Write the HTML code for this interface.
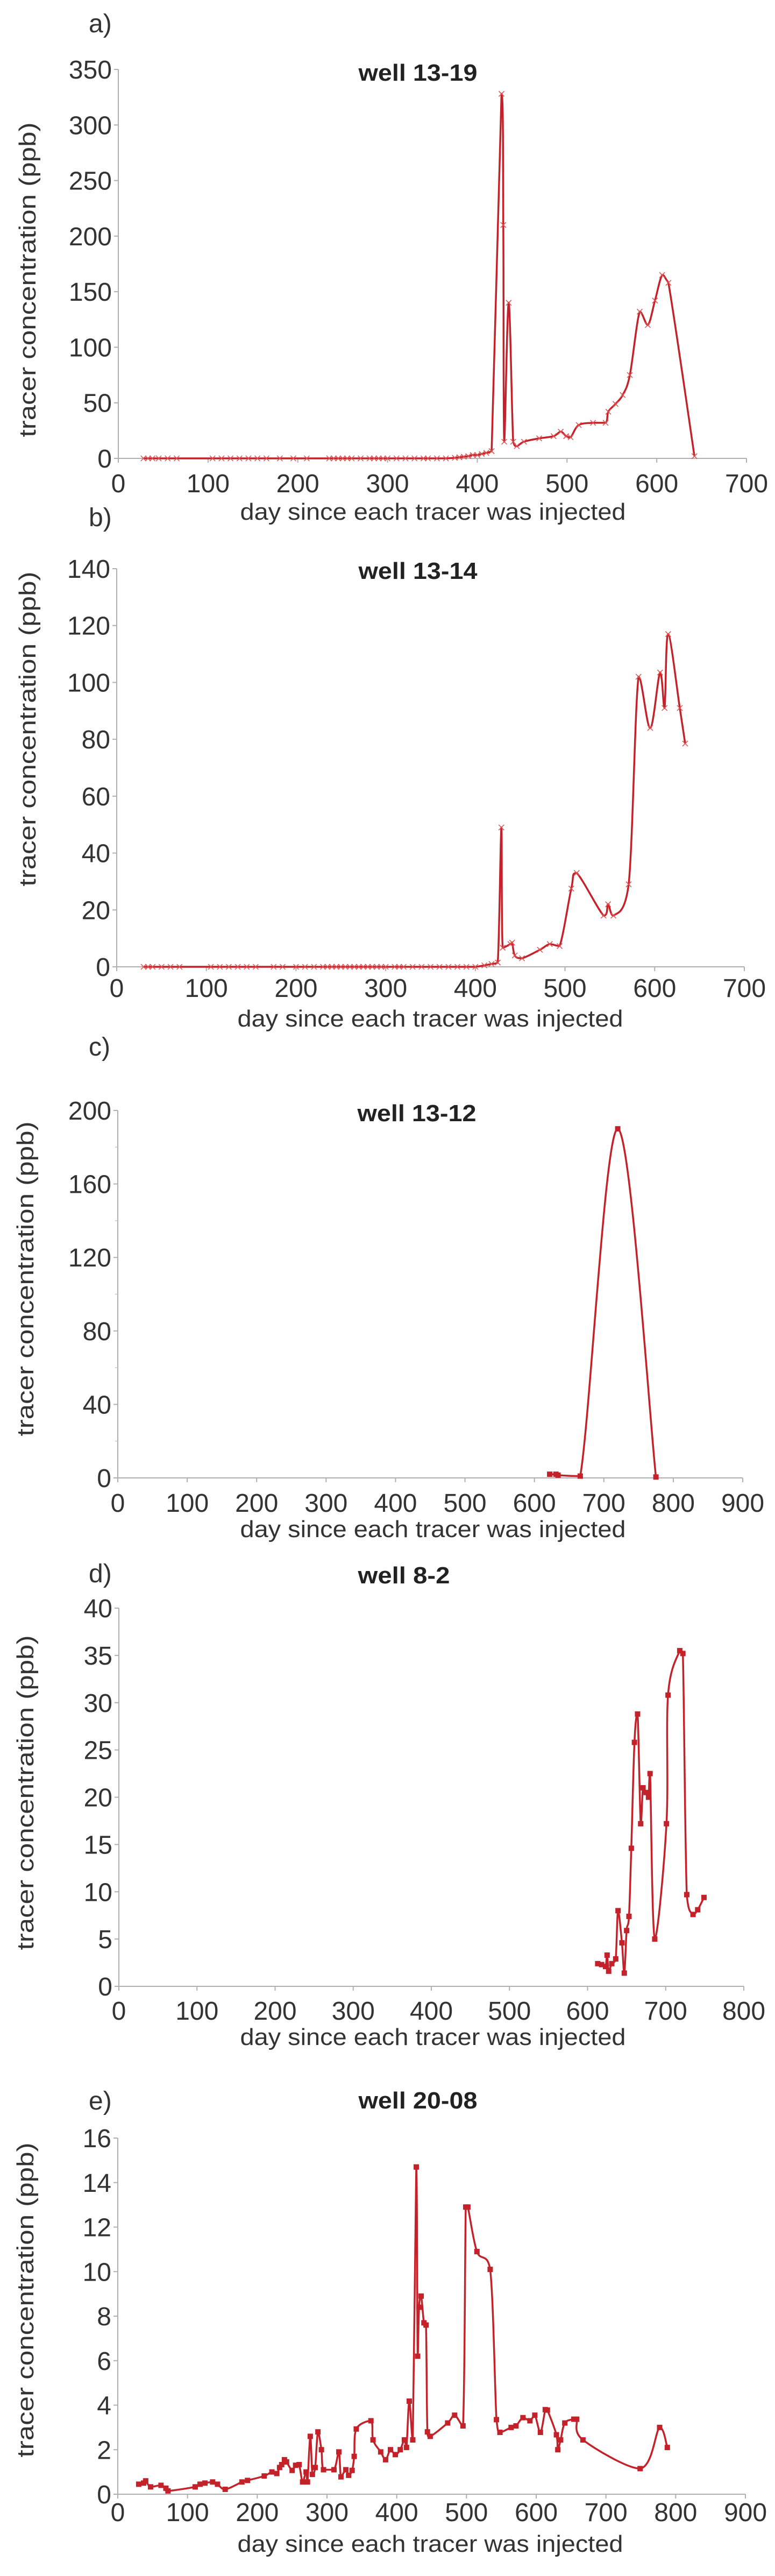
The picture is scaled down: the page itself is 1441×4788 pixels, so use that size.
<!DOCTYPE html>
<html><head><meta charset="utf-8"><title>Tracer concentrations</title>
<style>html,body{margin:0;padding:0;background:#fff;}svg{display:block;}</style></head>
<body>
<svg id="fig" width="1441" height="4788" viewBox="0 0 1441 4788" xmlns="http://www.w3.org/2000/svg" font-family="'Liberation Sans', Arial, sans-serif"></svg>
<script>
// ---- data ----
const aDays = [28,33,38,45,55,65,105,115,125,135,145,155,165,180,195,210,235,240,245,250,255,260,270,280,285,290,295,300,310,320,330,340,345,355,365,375,380,385,390,395,400,405,410,416,427,429,430,435,440,444,452,469,485,493,499,504,513,529,543,546,554,562,570,581,590,598,606,613,642];
const aVals = [0,0,0,0,0,0,0,0,0,0,0,0,0,0,0,0,0,0,0,0,0,0,0,0,0,0,0,0,0,0,0,0,0,0,0,0.5,1,1.5,2,3,3,4,5,6.5,328,210,15,140,15,11,15,18,20,24,20,19,30,32,32,42,49,57,75,132,120,142,165,158,2];
const aYTicks = [0,50,100,150,200,250,300,350];
const aXTicks = [0,100,200,300,400,500,600,700];

const bDays = [30,35,40,50,60,70,105,115,125,135,145,155,175,185,200,210,220,230,235,240,245,250,255,260,265,270,275,280,285,290,295,300,310,315,320,330,340,350,360,370,380,390,400,410,418,425,429,430.5,439,441,444,452,472,483,494,507,513,543,548,554,571,582,595,606,611,615,628,634];
const bVals = [0,0,0,0,0,0,0,0,0,0,0,0,0,0,0,0,0,0,0,0,0,0,0,0,0,0,0,0,0,0,0,0,0,0,0,0,0,0,0,0,0,0,0,0.5,1,1.5,49,6.7,8,8.5,4,3,6,8,7.3,27.5,33,18,22,18,29,102,84,103.5,91,117,91,78.5];
const bYTicks = [0,20,40,60,80,100,120,140];
const bXTicks = [0,100,200,300,400,500,600,700];

const cDays = [622,631,634,666,720,775];
const cVals = [2,2,1.5,1,190,0.5];
const cYTicks = [0,40,80,120,160,200];
const cXTicks = [0,100,200,300,400,500,600,700,800,900];

const dDays = [613,618,623,625,627,631,636,639,644,647,650,653,656,660,664,668,671,675,678,680,686,701,703,718,722,727,735,741,749];
const dVals = [2.4,2.3,2.1,3.3,1.6,2.4,2.9,8,4.6,1.4,5.9,7.4,14.6,25.8,28.8,17.2,21,20.5,20,22.5,5,17.2,30.8,35.5,35.2,9.7,7.6,8.1,9.4];
const dYTicks = [0,5,10,15,20,25,30,35,40];
const dXTicks = [0,100,200,300,400,500,600,700,800];

const eDays = [30,37,40,47,62,69,72,111,118,125,136,143,154,178,186,210,221,228,232,235,239,242,250,255,260,265,270,272,276,279,283,287,292,295,310,317,320,327,331,336,339,342,363,366,377,384,391,398,405,411,414,418,423,428,430,432,435,439,442,444,448,473,483,495,499,502,515,534,543,548,564,571,581,591,598,606,613,616,629,631,635,641,654,658,667,749,777,788];
const eVals = [0.45,0.5,0.6,0.33,0.4,0.27,0.15,0.33,0.45,0.5,0.55,0.45,0.22,0.55,0.62,0.82,1.0,0.93,1.2,1.33,1.55,1.45,1.07,1.3,1.33,0.55,1.0,0.55,2.6,0.89,1.2,2.8,2.0,1.1,1.1,1.9,0.78,1.1,0.85,1.07,1.7,2.93,3.3,2.44,1.9,1.55,2.0,1.78,2.0,2.44,2.1,4.18,2.44,14.7,6.2,8.4,8.9,7.7,7.6,2.8,2.6,3.2,3.55,3.07,12.9,12.9,10.9,10.1,3.35,2.78,3.0,3.07,3.44,3.3,3.55,2.78,3.8,3.78,2.67,2.0,2.44,3.2,3.37,3.37,2.44,1.15,3.0,2.1];
const eYTicks = [0,2,4,6,8,10,12,14,16];
const eXTicks = [0,100,200,300,400,500,600,700,800,900];

// ---- drawing ----
const NS = 'http://www.w3.org/2000/svg';
const svg = document.getElementById('fig');
const RED = '#c4222a';
function mk(tag, attrs, parent){
  const el = document.createElementNS(NS, tag);
  for (const k in attrs) el.setAttribute(k, attrs[k]);
  (parent||svg).appendChild(el);
  return el;
}
function clamp(v, a, b){ const lo = Math.min(a,b), hi = Math.max(a,b); return Math.max(lo, Math.min(hi, v)); }
function smoothPath(pts, doClamp){
  if (pts.length < 2) return '';
  let d = 'M' + pts[0][0].toFixed(1) + ',' + pts[0][1].toFixed(1);
  for (let i = 0; i < pts.length - 1; i++){
    const p0 = pts[Math.max(0,i-1)], p1 = pts[i], p2 = pts[i+1], p3 = pts[Math.min(pts.length-1,i+2)];
    const t = 1/6;
    const c1x = p1[0] + (p2[0]-p0[0])*t;
    let c1y = p1[1] + (p2[1]-p0[1])*t;
    const c2x = p2[0] - (p3[0]-p1[0])*t;
    let c2y = p2[1] - (p3[1]-p1[1])*t;
    if (doClamp){ c1y = clamp(c1y, p1[1], p2[1]); c2y = clamp(c2y, p1[1], p2[1]); }
    d += ' C' + c1x.toFixed(1)+','+c1y.toFixed(1)+' '+c2x.toFixed(1)+','+c2y.toFixed(1)+' '+p2[0].toFixed(1)+','+p2[1].toFixed(1);
  }
  return d;
}
function chart(cfg, days, vals, yTicks, xTicks){
  const g = mk('g', {});
  
  
  const xMax = xTicks[xTicks.length-1], yMax = yTicks[yTicks.length-1];
  const X = v => cfg.x0 + (v / xMax) * (cfg.x1 - cfg.x0);
  const Y = v => cfg.y0 - (v / yMax) * (cfg.y0 - cfg.y1);
  const pl = mk('text', {x:165, y:cfg.panelY, 'font-size':48, fill:'#333'}, g);
  pl.textContent = cfg.panel;
  
  
  const tt = mk('text', {x:cfg.titleX, y:cfg.titleY, 'font-size':44, 'font-weight':'bold', fill:'#222', 'text-anchor':'middle', textLength:cfg.titleW, lengthAdjust:'spacingAndGlyphs'}, g);
  tt.textContent = cfg.title;
  
  
  const ya = mk('line', {x1:cfg.x0, y1:cfg.y0, x2:cfg.x0, y2:cfg.y1, stroke:'#b0b0b0', 'stroke-width':2}, g);
  
  
  const xa = mk('line', {x1:cfg.x0, y1:cfg.y0, x2:cfg.x1, y2:cfg.y0, stroke:'#b0b0b0', 'stroke-width':2}, g);
  
  
  yTicks.forEach((t, i) => {
    mk('line', {x1:cfg.x0-8, y1:Y(t), x2:cfg.x0, y2:Y(t), stroke:'#b0b0b0', 'stroke-width':2}, g);
    if (cfg.minor && i < yTicks.length-1){
      const m = (t + yTicks[i+1]) / 2;
      mk('line', {x1:cfg.x0-5, y1:Y(m), x2:cfg.x0, y2:Y(m), stroke:'#c8c8c8', 'stroke-width':1.5}, g);
    }
    const lb = mk('text', {x:cfg.x0-12, y:Y(t)+17, 'font-size':cfg.tickFs, fill:'#333', 'text-anchor':'end'}, g);
    lb.textContent = String(t);
    
    
  });
  xTicks.forEach(t => {
    mk('line', {x1:X(t), y1:cfg.y0, x2:X(t), y2:cfg.y0+8, stroke:'#b0b0b0', 'stroke-width':2}, g);
    const lb = mk('text', {x:X(t), y:cfg.xTickY, 'font-size':cfg.tickFs, fill:'#333', 'text-anchor':'middle'}, g);
    lb.textContent = String(t);
    
    
  });
  const xl = mk('text', {x:cfg.xlX, y:cfg.xlY, 'font-size':44, fill:'#333', 'text-anchor':'middle', textLength:717, lengthAdjust:'spacingAndGlyphs'}, g);
  xl.textContent = 'day since each tracer was injected';
  
  
  const yl = mk('text', {x:0, y:0, 'font-size':44, fill:'#333', 'text-anchor':'middle', textLength:585, lengthAdjust:'spacingAndGlyphs', transform:'translate(' + cfg.ylX + ',' + cfg.ylY + ') rotate(-90)'}, g);
  yl.textContent = 'tracer concentration (ppb)';
  
  
  const pts = days.map((d, i) => [X(d), Y(vals[i])]);
  const ln = mk('path', {d:smoothPath(pts, cfg.clamp), fill:'none', stroke:RED, 'stroke-width':3.5, 'stroke-linejoin':'round'}, g);
  
  
  pts.forEach(p => {
    let m;
    if (cfg.marker === 'x'){
      m = mk('path', {d:'M'+(p[0]-5)+','+(p[1]-5)+' L'+(p[0]+5)+','+(p[1]+5)+' M'+(p[0]-5)+','+(p[1]+5)+' L'+(p[0]+5)+','+(p[1]-5), stroke:'#e05050', 'stroke-width':1.5, fill:'none'}, g);
    } else {
      m = mk('rect', {x:p[0]-5, y:p[1]-5, width:10, height:10, fill:RED}, g);
    }
    
    
  });
}
chart({id:'well-13-19', panel:'a)', panelY:60, title:'well 13-19', titleX:777, titleY:150, titleW:221,
  x0:220, x1:1388, y0:852, y1:129, xTickY:915, xlX:805, xlY:966, ylX:66, ylY:520, tickFs:48, marker:'x', clamp:true},
  aDays, aVals, aYTicks, aXTicks);
chart({id:'well-13-14', panel:'b)', panelY:978, title:'well 13-14', titleX:777, titleY:1076, titleW:221,
  x0:217, x1:1384, y0:1797, y1:1057, xTickY:1853, xlX:800, xlY:1908, ylX:66, ylY:1355, tickFs:48, marker:'x', clamp:true},
  bDays, bVals, bYTicks, bXTicks);
chart({id:'well-13-12', panel:'c)', panelY:1962, title:'well 13-12', titleX:775, titleY:2084, titleW:221,
  x0:219, x1:1381, y0:2747, y1:2064, xTickY:2810, xlX:805, xlY:2857, ylX:62, ylY:2377, tickFs:48, marker:'sq', minor:true, clamp:true},
  cDays, cVals, cYTicks, cXTicks);
chart({id:'well-8-2', panel:'d)', panelY:2941, title:'well 8-2', titleX:751, titleY:2943, titleW:171,
  x0:221, x1:1383, y0:3692, y1:2989, xTickY:3754, xlX:805, xlY:3801, ylX:62, ylY:3332, tickFs:48, marker:'sq', clamp:true},
  dDays, dVals, dYTicks, dXTicks);
chart({id:'well-20-08', panel:'e)', panelY:3921, title:'well 20-08', titleX:777, titleY:3919, titleW:221,
  x0:219, x1:1386, y0:4636, y1:3974, xTickY:4686, xlX:800, xlY:4743, ylX:62, ylY:4275, tickFs:48, marker:'sq', clamp:true},
  eDays, eVals, eYTicks, eXTicks);
</script>
</body></html>
